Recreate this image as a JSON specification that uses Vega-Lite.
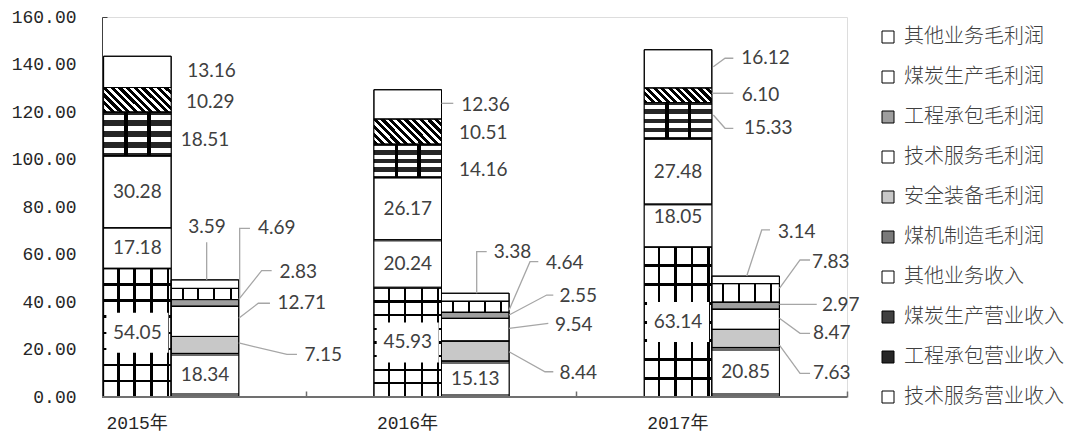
{
  "$schema": "https://vega.github.io/schema/vega-lite/v6.json",
  "width": 745,
  "height": 380,
  "autosize": "none",
  "padding": {"left": 102, "top": 17, "right": 235, "bottom": 39},
  "background": "white",
  "config": {
    "axisY": {"labelFont": "Liberation Mono", "labelFontSize": 18, "labelFontWeight": "normal", "labelColor": "#262626", "labelPadding": 31},
    "axisX": {"labelFont": "Liberation Mono, Noto Sans CJK SC", "labelFontSize": 18, "labelFontWeight": "normal", "labelColor": "#262626", "labelPadding": 23}
  },
  "params": [
    {
      "name": "lbl",
      "value": {
        "2015年煤机制造营业收入": [-33.8, 0],
        "2015年安全装备营业收入": [-33.8, 0],
        "2015年技术服务营业收入": [-33.8, 0],
        "2015年工程承包营业收入": [33.8, 6.1],
        "2015年煤炭生产营业收入": [39.1, 2],
        "2015年其他业务收入": [40.3, -1.2],
        "2015年煤机制造毛利润": [33.8, 0],
        "2015年安全装备毛利润": [152.1, 10],
        "2015年技术服务毛利润": [130.5, -18.1],
        "2015年工程承包毛利润": [127.1, -31.2],
        "2015年煤炭生产毛利润": [105.5, -65.7],
        "2015年其他业务毛利润": [35.8, -57.5],
        "2016年煤机制造营业收入": [-33.8, 0],
        "2016年安全装备营业收入": [-33.8, 0],
        "2016年技术服务营业收入": [-33.8, 0],
        "2016年工程承包营业收入": [41.8, 9.1],
        "2016年煤炭生产营业收入": [41.8, 1.7],
        "2016年其他业务收入": [44, 0.6],
        "2016年煤机制造毛利润": [33.8, 0],
        "2016年安全装备毛利润": [136.8, 21.7],
        "2016年技术服务毛利润": [132.3, -4.7],
        "2016年工程承包毛利润": [136.8, -19.3],
        "2016年煤炭生产毛利润": [123.2, -43.5],
        "2016年其他业务毛利润": [71, -45.6],
        "2017年煤机制造营业收入": [-33.8, 0],
        "2017年安全装备营业收入": [-33.8, -9],
        "2017年技术服务营业收入": [-33.8, 0],
        "2017年工程承包营业收入": [56.5, 7.6],
        "2017年煤炭生产营业收入": [48.7, -0.3],
        "2017年其他业务收入": [53.7, -10.6],
        "2017年煤机制造毛利润": [33.8, 0],
        "2017年安全装备毛利润": [119.9, 34.9],
        "2017年技术服务毛利润": [119.9, 14],
        "2017年工程承包毛利润": [129, -0.7],
        "2017年煤炭生产毛利润": [119, -31.2],
        "2017年其他业务毛利润": [84.9, -48.2]
      }
    },
    {
      "name": "ldr",
      "value": {
        "2015年安全装备毛利润": [[67.6, -2], [115.8, 9.5], [125.8, 9.5]],
        "2015年技术服务毛利润": [[67.6, -3.1], [87.1, -18.1], [98.8, -18.1]],
        "2015年工程承包毛利润": [[67.6, -3.6], [90.5, -32.2], [100.5, -32.2]],
        "2015年煤炭生产毛利润": [[68.5, 3], [68.5, -65.7], [78.8, -65.7]],
        "2015年其他业务毛利润": [[35.5, -4.3], [35.5, -41.9]],
        "2016年安全装备毛利润": [[67.6, 0.7], [103.5, 20.7], [111.8, 20.7]],
        "2016年技术服务毛利润": [[67.6, -1.4], [106.8, -6.4]],
        "2016年工程承包毛利润": [[67.6, -0.3], [105.2, -20.3], [111.8, -20.3]],
        "2016年煤炭生产毛利润": [[67.6, 3.2], [88.5, -45.1], [96.8, -45.1]],
        "2016年其他业务毛利润": [[35.2, -4], [35.2, -45.6], [45.2, -45.6]],
        "2016年其他业务收入": [[0, -1.1], [11.8, -1.1]],
        "2017年安全装备毛利润": [[67.6, 6.6], [88.2, 34.9], [98.2, 34.9]],
        "2017年技术服务毛利润": [[67.6, -1], [88.2, 14], [98.2, 14]],
        "2017年工程承包毛利润": [[67.6, -1.4], [104.9, -1.4]],
        "2017年煤炭生产毛利润": [[67.6, -4.6], [88.2, -32.9], [98.2, -32.9]],
        "2017年其他业务毛利润": [[34.9, -3.8], [49.9, -49.9], [58.2, -49.9]],
        "2017年其他业务收入": [[1.5, -2.2], [13.2, -10.6], [21.5, -10.6]],
        "2017年煤炭生产营业收入": [[0, -2], [21.5, -2]],
        "2017年工程承包营业收入": [[1.5, -5.7], [13.2, 7.6], [21.5, 7.6]]
      }
    }
  ],
  "data": {
    "values": [
      {"year": "2015年", "kind": "营业收入", "series": "煤机制造营业收入", "value": 54.05},
      {"year": "2015年", "kind": "营业收入", "series": "安全装备营业收入", "value": 17.18},
      {"year": "2015年", "kind": "营业收入", "series": "技术服务营业收入", "value": 30.28},
      {"year": "2015年", "kind": "营业收入", "series": "工程承包营业收入", "value": 18.51},
      {"year": "2015年", "kind": "营业收入", "series": "煤炭生产营业收入", "value": 10.29},
      {"year": "2015年", "kind": "营业收入", "series": "其他业务收入", "value": 13.16},
      {"year": "2015年", "kind": "毛利润", "series": "煤机制造毛利润", "value": 18.34},
      {"year": "2015年", "kind": "毛利润", "series": "安全装备毛利润", "value": 7.15},
      {"year": "2015年", "kind": "毛利润", "series": "技术服务毛利润", "value": 12.71},
      {"year": "2015年", "kind": "毛利润", "series": "工程承包毛利润", "value": 2.83},
      {"year": "2015年", "kind": "毛利润", "series": "煤炭生产毛利润", "value": 4.69},
      {"year": "2015年", "kind": "毛利润", "series": "其他业务毛利润", "value": 3.59},
      {"year": "2016年", "kind": "营业收入", "series": "煤机制造营业收入", "value": 45.93},
      {"year": "2016年", "kind": "营业收入", "series": "安全装备营业收入", "value": 20.24},
      {"year": "2016年", "kind": "营业收入", "series": "技术服务营业收入", "value": 26.17},
      {"year": "2016年", "kind": "营业收入", "series": "工程承包营业收入", "value": 14.16},
      {"year": "2016年", "kind": "营业收入", "series": "煤炭生产营业收入", "value": 10.51},
      {"year": "2016年", "kind": "营业收入", "series": "其他业务收入", "value": 12.36},
      {"year": "2016年", "kind": "毛利润", "series": "煤机制造毛利润", "value": 15.13},
      {"year": "2016年", "kind": "毛利润", "series": "安全装备毛利润", "value": 8.44},
      {"year": "2016年", "kind": "毛利润", "series": "技术服务毛利润", "value": 9.54},
      {"year": "2016年", "kind": "毛利润", "series": "工程承包毛利润", "value": 2.55},
      {"year": "2016年", "kind": "毛利润", "series": "煤炭生产毛利润", "value": 4.64},
      {"year": "2016年", "kind": "毛利润", "series": "其他业务毛利润", "value": 3.38},
      {"year": "2017年", "kind": "营业收入", "series": "煤机制造营业收入", "value": 63.14},
      {"year": "2017年", "kind": "营业收入", "series": "安全装备营业收入", "value": 18.05},
      {"year": "2017年", "kind": "营业收入", "series": "技术服务营业收入", "value": 27.48},
      {"year": "2017年", "kind": "营业收入", "series": "工程承包营业收入", "value": 15.33},
      {"year": "2017年", "kind": "营业收入", "series": "煤炭生产营业收入", "value": 6.10},
      {"year": "2017年", "kind": "营业收入", "series": "其他业务收入", "value": 16.12},
      {"year": "2017年", "kind": "毛利润", "series": "煤机制造毛利润", "value": 20.85},
      {"year": "2017年", "kind": "毛利润", "series": "安全装备毛利润", "value": 7.63},
      {"year": "2017年", "kind": "毛利润", "series": "技术服务毛利润", "value": 8.47},
      {"year": "2017年", "kind": "毛利润", "series": "工程承包毛利润", "value": 2.97},
      {"year": "2017年", "kind": "毛利润", "series": "煤炭生产毛利润", "value": 7.83},
      {"year": "2017年", "kind": "毛利润", "series": "其他业务毛利润", "value": 3.14}
    ]
  },
  "transform": [
    {"calculate": "indexof(['煤机制造营业收入','安全装备营业收入','技术服务营业收入','工程承包营业收入','煤炭生产营业收入','其他业务收入','煤机制造毛利润','安全装备毛利润','技术服务毛利润','工程承包毛利润','煤炭生产毛利润','其他业务毛利润'], datum.series)", "as": "rank"},
    {"stack": "value", "groupby": ["year", "kind"], "sort": [{"field": "rank", "order": "ascending"}], "as": ["v0", "v1"]},
    {"calculate": "(datum.v0 + datum.v1) / 2", "as": "mid"},
    {"calculate": "datum.year + datum.series", "as": "key"}
  ],
  "layer": [
    {
      "mark": {"type": "bar", "stroke": "#000", "strokeWidth": 1},
      "encoding": {
        "x": {
          "field": "year", "type": "nominal", "title": null,
          "scale": {"type": "band", "domain": ["2015年", "2016年", "2017年"], "range": [-66, 745], "paddingInner": 0, "paddingOuter": 0},
          "axis": {
            "domain": false, "grid": false, "ticks": true, "tickSize": -6, "tickColor": "#6e6e6e", "tickWidth": 1.5,
            "bandPosition": 1, "labelOffset": -34, "labelAngle": 0,
            "labelFont": "Liberation Mono, Noto Sans CJK SC", "labelFontSize": 18, "labelFontWeight": "normal", "labelColor": "#262626", "labelPadding": 23
          }
        },
        "xOffset": {"field": "kind", "type": "nominal", "scale": {"domain": ["营业收入", "毛利润"], "paddingInner": 0, "paddingOuter": 1}},
        "y": {
          "field": "v0", "type": "quantitative", "title": null,
          "scale": {"domain": [0, 160], "nice": false},
          "axis": {
            "values": [0, 20, 40, 60, 80, 100, 120, 140, 160], "format": ".2f", "grid": false,
            "domainColor": "#404040", "domainWidth": 1, "ticks": true, "tickSize": -5, "tickColor": "#404040",
            "labelFont": "Liberation Mono", "labelFontSize": 18, "labelFontWeight": "normal", "labelColor": "#262626", "labelPadding": 31
          }
        },
        "y2": {"field": "v1"},
        "color": {
          "field": "series", "type": "nominal",
          "scale": {
            "domain": ["煤机制造营业收入", "安全装备营业收入", "技术服务营业收入", "工程承包营业收入", "煤炭生产营业收入", "其他业务收入", "煤机制造毛利润", "安全装备毛利润", "技术服务毛利润", "工程承包毛利润", "煤炭生产毛利润", "其他业务毛利润"],
            "range": ["#ffffff", "#ffffff", "#ffffff", "#262626", "#404040", "#ffffff", "#7a7a7a", "#c8c8c8", "#ffffff", "#9e9e9e", "#ffffff", "#ffffff"]
          },
          "legend": {
            "values": ["其他业务毛利润", "煤炭生产毛利润", "工程承包毛利润", "技术服务毛利润", "安全装备毛利润", "煤机制造毛利润", "其他业务收入", "煤炭生产营业收入", "工程承包营业收入", "技术服务营业收入"],
            "title": null, "orient": "none", "legendX": 776, "legendY": 10, "direction": "vertical",
            "symbolType": "square", "symbolSize": 144, "symbolStrokeColor": "#000", "symbolStrokeWidth": 1,
            "labelFont": "Noto Sans CJK SC", "labelFontSize": 20, "labelFontWeight": 300, "labelColor": "#404040",
            "labelOffset": 6, "rowPadding": 20, "labelLimit": 300
          }
        }
      }
    },
    {
      "transform": [{"filter": "datum.series === '煤机制造营业收入'"}],
      "mark": {
        "type": "bar", "strokeWidth": 0,
        "fill": {
          "gradient": "linear", "x1": 0, "y1": 0, "x2": 0, "y2": 1,
          "stops": [
            {"offset": 0, "color": "rgba(0,0,0,0)"},
            {"offset": 0.115, "color": "rgba(0,0,0,0)"}, {"offset": 0.115, "color": "#000"}, {"offset": 0.135, "color": "#000"}, {"offset": 0.135, "color": "rgba(0,0,0,0)"},
            {"offset": 0.24, "color": "rgba(0,0,0,0)"}, {"offset": 0.24, "color": "#000"}, {"offset": 0.26, "color": "#000"}, {"offset": 0.26, "color": "rgba(0,0,0,0)"},
            {"offset": 0.365, "color": "rgba(0,0,0,0)"}, {"offset": 0.365, "color": "#000"}, {"offset": 0.385, "color": "#000"}, {"offset": 0.385, "color": "rgba(0,0,0,0)"},
            {"offset": 0.49, "color": "rgba(0,0,0,0)"}, {"offset": 0.49, "color": "#000"}, {"offset": 0.51, "color": "#000"}, {"offset": 0.51, "color": "rgba(0,0,0,0)"},
            {"offset": 0.615, "color": "rgba(0,0,0,0)"}, {"offset": 0.615, "color": "#000"}, {"offset": 0.635, "color": "#000"}, {"offset": 0.635, "color": "rgba(0,0,0,0)"},
            {"offset": 0.74, "color": "rgba(0,0,0,0)"}, {"offset": 0.74, "color": "#000"}, {"offset": 0.76, "color": "#000"}, {"offset": 0.76, "color": "rgba(0,0,0,0)"},
            {"offset": 0.865, "color": "rgba(0,0,0,0)"}, {"offset": 0.865, "color": "#000"}, {"offset": 0.885, "color": "#000"}, {"offset": 0.885, "color": "rgba(0,0,0,0)"},
            {"offset": 1, "color": "rgba(0,0,0,0)"}
          ]
        }
      },
      "encoding": {
        "x": {"field": "year", "type": "nominal", "title": null},
        "xOffset": {"field": "kind", "type": "nominal"},
        "y": {"field": "v0", "type": "quantitative", "title": null},
        "y2": {"field": "v1"}
      }
    },
    {
      "transform": [{"filter": "datum.series === '煤机制造营业收入'"}],
      "mark": {
        "type": "bar", "strokeWidth": 0,
        "fill": {
          "gradient": "linear", "x1": 0, "y1": 0, "x2": 1, "y2": 0,
          "stops": [
            {"offset": 0, "color": "rgba(0,0,0,0)"},
            {"offset": 0.202, "color": "rgba(0,0,0,0)"}, {"offset": 0.202, "color": "#000"}, {"offset": 0.238, "color": "#000"}, {"offset": 0.238, "color": "rgba(0,0,0,0)"},
            {"offset": 0.442, "color": "rgba(0,0,0,0)"}, {"offset": 0.442, "color": "#000"}, {"offset": 0.478, "color": "#000"}, {"offset": 0.478, "color": "rgba(0,0,0,0)"},
            {"offset": 0.692, "color": "rgba(0,0,0,0)"}, {"offset": 0.692, "color": "#000"}, {"offset": 0.728, "color": "#000"}, {"offset": 0.728, "color": "rgba(0,0,0,0)"},
            {"offset": 0.932, "color": "rgba(0,0,0,0)"}, {"offset": 0.932, "color": "#000"}, {"offset": 0.968, "color": "#000"}, {"offset": 0.968, "color": "rgba(0,0,0,0)"},
            {"offset": 1, "color": "rgba(0,0,0,0)"}
          ]
        }
      },
      "encoding": {
        "x": {"field": "year", "type": "nominal", "title": null},
        "xOffset": {"field": "kind", "type": "nominal"},
        "y": {"field": "v0", "type": "quantitative", "title": null},
        "y2": {"field": "v1"}
      }
    },
    {
      "transform": [{"filter": "datum.series === '工程承包营业收入'"}],
      "mark": {
        "type": "bar", "strokeWidth": 0,
        "fill": {
          "gradient": "linear", "x1": 0, "y1": 0, "x2": 0, "y2": 1,
          "stops": [
            {"offset": 0, "color": "rgba(0,0,0,0)"},
            {"offset": 0.07, "color": "rgba(0,0,0,0)"}, {"offset": 0.07, "color": "#fff"}, {"offset": 0.19, "color": "#fff"}, {"offset": 0.19, "color": "rgba(0,0,0,0)"},
            {"offset": 0.32, "color": "rgba(0,0,0,0)"}, {"offset": 0.32, "color": "#fff"}, {"offset": 0.44, "color": "#fff"}, {"offset": 0.44, "color": "rgba(0,0,0,0)"},
            {"offset": 0.57, "color": "rgba(0,0,0,0)"}, {"offset": 0.57, "color": "#fff"}, {"offset": 0.69, "color": "#fff"}, {"offset": 0.69, "color": "rgba(0,0,0,0)"},
            {"offset": 0.82, "color": "rgba(0,0,0,0)"}, {"offset": 0.82, "color": "#fff"}, {"offset": 0.94, "color": "#fff"}, {"offset": 0.94, "color": "rgba(0,0,0,0)"},
            {"offset": 1, "color": "rgba(0,0,0,0)"}
          ]
        }
      },
      "encoding": {
        "x": {"field": "year", "type": "nominal", "title": null},
        "xOffset": {"field": "kind", "type": "nominal"},
        "y": {"field": "v0", "type": "quantitative", "title": null},
        "y2": {"field": "v1"}
      }
    },
    {
      "transform": [{"filter": "datum.series === '工程承包营业收入'"}],
      "mark": {
        "type": "bar", "strokeWidth": 0,
        "fill": {
          "gradient": "linear", "x1": 0, "y1": 0, "x2": 1, "y2": 0,
          "stops": [
            {"offset": 0, "color": "rgba(0,0,0,0)"},
            {"offset": 0.305, "color": "rgba(0,0,0,0)"}, {"offset": 0.305, "color": "#000"}, {"offset": 0.36, "color": "#000"}, {"offset": 0.36, "color": "rgba(0,0,0,0)"},
            {"offset": 0.64, "color": "rgba(0,0,0,0)"}, {"offset": 0.64, "color": "#000"}, {"offset": 0.695, "color": "#000"}, {"offset": 0.695, "color": "rgba(0,0,0,0)"},
            {"offset": 1, "color": "rgba(0,0,0,0)"}
          ]
        }
      },
      "encoding": {
        "x": {"field": "year", "type": "nominal", "title": null},
        "xOffset": {"field": "kind", "type": "nominal"},
        "y": {"field": "v0", "type": "quantitative", "title": null},
        "y2": {"field": "v1"}
      }
    },
    {
      "transform": [{"filter": "datum.series === '煤炭生产营业收入' && datum.year !== '2017年'"}],
      "mark": {
        "type": "bar", "strokeWidth": 0,
        "fill": {
          "gradient": "linear", "x1": 0, "y1": 1, "x2": 1.2045, "y2": 0.5603,
          "stops": [
            {"offset": 0, "color": "#000"}, {"offset": 0.0458, "color": "#000"}, {"offset": 0.0458, "color": "#fff"}, {"offset": 0.0833, "color": "#fff"},
            {"offset": 0.0833, "color": "#000"}, {"offset": 0.1292, "color": "#000"}, {"offset": 0.1292, "color": "#fff"}, {"offset": 0.1667, "color": "#fff"},
            {"offset": 0.1667, "color": "#000"}, {"offset": 0.2125, "color": "#000"}, {"offset": 0.2125, "color": "#fff"}, {"offset": 0.25, "color": "#fff"},
            {"offset": 0.25, "color": "#000"}, {"offset": 0.2958, "color": "#000"}, {"offset": 0.2958, "color": "#fff"}, {"offset": 0.3333, "color": "#fff"},
            {"offset": 0.3333, "color": "#000"}, {"offset": 0.3792, "color": "#000"}, {"offset": 0.3792, "color": "#fff"}, {"offset": 0.4167, "color": "#fff"},
            {"offset": 0.4167, "color": "#000"}, {"offset": 0.4625, "color": "#000"}, {"offset": 0.4625, "color": "#fff"}, {"offset": 0.5, "color": "#fff"},
            {"offset": 0.5, "color": "#000"}, {"offset": 0.5458, "color": "#000"}, {"offset": 0.5458, "color": "#fff"}, {"offset": 0.5833, "color": "#fff"},
            {"offset": 0.5833, "color": "#000"}, {"offset": 0.6292, "color": "#000"}, {"offset": 0.6292, "color": "#fff"}, {"offset": 0.6667, "color": "#fff"},
            {"offset": 0.6667, "color": "#000"}, {"offset": 0.7125, "color": "#000"}, {"offset": 0.7125, "color": "#fff"}, {"offset": 0.75, "color": "#fff"},
            {"offset": 0.75, "color": "#000"}, {"offset": 0.7958, "color": "#000"}, {"offset": 0.7958, "color": "#fff"}, {"offset": 0.8333, "color": "#fff"},
            {"offset": 0.8333, "color": "#000"}, {"offset": 0.8792, "color": "#000"}, {"offset": 0.8792, "color": "#fff"}, {"offset": 0.9167, "color": "#fff"},
            {"offset": 0.9167, "color": "#000"}, {"offset": 0.9625, "color": "#000"}, {"offset": 0.9625, "color": "#fff"}, {"offset": 1, "color": "#fff"}
          ]
        }
      },
      "encoding": {
        "x": {"field": "year", "type": "nominal", "title": null},
        "xOffset": {"field": "kind", "type": "nominal"},
        "y": {"field": "v0", "type": "quantitative", "title": null},
        "y2": {"field": "v1"}
      }
    },
    {
      "transform": [{"filter": "datum.series === '煤炭生产营业收入' && datum.year === '2017年'"}],
      "mark": {
        "type": "bar", "strokeWidth": 0,
        "fill": {
          "gradient": "linear", "x1": 0, "y1": 1, "x2": 1.1611, "y2": 0.751,
          "stops": [
            {"offset": 0, "color": "#000"}, {"offset": 0.05, "color": "#000"}, {"offset": 0.05, "color": "#fff"}, {"offset": 0.0909, "color": "#fff"},
            {"offset": 0.0909, "color": "#000"}, {"offset": 0.1409, "color": "#000"}, {"offset": 0.1409, "color": "#fff"}, {"offset": 0.1818, "color": "#fff"},
            {"offset": 0.1818, "color": "#000"}, {"offset": 0.2318, "color": "#000"}, {"offset": 0.2318, "color": "#fff"}, {"offset": 0.2727, "color": "#fff"},
            {"offset": 0.2727, "color": "#000"}, {"offset": 0.3227, "color": "#000"}, {"offset": 0.3227, "color": "#fff"}, {"offset": 0.3636, "color": "#fff"},
            {"offset": 0.3636, "color": "#000"}, {"offset": 0.4136, "color": "#000"}, {"offset": 0.4136, "color": "#fff"}, {"offset": 0.4545, "color": "#fff"},
            {"offset": 0.4545, "color": "#000"}, {"offset": 0.5045, "color": "#000"}, {"offset": 0.5045, "color": "#fff"}, {"offset": 0.5455, "color": "#fff"},
            {"offset": 0.5455, "color": "#000"}, {"offset": 0.5955, "color": "#000"}, {"offset": 0.5955, "color": "#fff"}, {"offset": 0.6364, "color": "#fff"},
            {"offset": 0.6364, "color": "#000"}, {"offset": 0.6864, "color": "#000"}, {"offset": 0.6864, "color": "#fff"}, {"offset": 0.7273, "color": "#fff"},
            {"offset": 0.7273, "color": "#000"}, {"offset": 0.7773, "color": "#000"}, {"offset": 0.7773, "color": "#fff"}, {"offset": 0.8182, "color": "#fff"},
            {"offset": 0.8182, "color": "#000"}, {"offset": 0.8682, "color": "#000"}, {"offset": 0.8682, "color": "#fff"}, {"offset": 0.9091, "color": "#fff"},
            {"offset": 0.9091, "color": "#000"}, {"offset": 0.9591, "color": "#000"}, {"offset": 0.9591, "color": "#fff"}, {"offset": 1, "color": "#fff"}
          ]
        }
      },
      "encoding": {
        "x": {"field": "year", "type": "nominal", "title": null},
        "xOffset": {"field": "kind", "type": "nominal"},
        "y": {"field": "v0", "type": "quantitative", "title": null},
        "y2": {"field": "v1"}
      }
    },
    {
      "transform": [{"filter": "datum.series === '煤炭生产毛利润'"}],
      "mark": {
        "type": "bar", "strokeWidth": 0,
        "fill": {
          "gradient": "linear", "x1": 0, "y1": 0, "x2": 1, "y2": 0,
          "stops": [
            {"offset": 0, "color": "rgba(0,0,0,0)"},
            {"offset": 0.155, "color": "rgba(0,0,0,0)"}, {"offset": 0.155, "color": "#000"}, {"offset": 0.185, "color": "#000"}, {"offset": 0.185, "color": "rgba(0,0,0,0)"},
            {"offset": 0.385, "color": "rgba(0,0,0,0)"}, {"offset": 0.385, "color": "#000"}, {"offset": 0.415, "color": "#000"}, {"offset": 0.415, "color": "rgba(0,0,0,0)"},
            {"offset": 0.625, "color": "rgba(0,0,0,0)"}, {"offset": 0.625, "color": "#000"}, {"offset": 0.655, "color": "#000"}, {"offset": 0.655, "color": "rgba(0,0,0,0)"},
            {"offset": 0.865, "color": "rgba(0,0,0,0)"}, {"offset": 0.865, "color": "#000"}, {"offset": 0.895, "color": "#000"}, {"offset": 0.895, "color": "rgba(0,0,0,0)"},
            {"offset": 1, "color": "rgba(0,0,0,0)"}
          ]
        }
      },
      "encoding": {
        "x": {"field": "year", "type": "nominal", "title": null},
        "xOffset": {"field": "kind", "type": "nominal"},
        "y": {"field": "v0", "type": "quantitative", "title": null},
        "y2": {"field": "v1"}
      }
    },
    {
      "transform": [{"filter": "datum.series === '煤机制造毛利润'"}],
      "mark": {
        "type": "bar", "strokeWidth": 0,
        "fill": {
          "gradient": "linear", "x1": 0, "y1": 0, "x2": 0, "y2": 1,
          "stops": [
            {"offset": 0, "color": "#6a6a6a"}, {"offset": 0.07, "color": "#6a6a6a"}, {"offset": 0.07, "color": "#fff"},
            {"offset": 0.91, "color": "#fff"}, {"offset": 0.91, "color": "#6a6a6a"}, {"offset": 1, "color": "#6a6a6a"}
          ]
        }
      },
      "encoding": {
        "x": {"field": "year", "type": "nominal", "title": null},
        "xOffset": {"field": "kind", "type": "nominal"},
        "y": {"field": "v0", "type": "quantitative", "title": null},
        "y2": {"field": "v1"}
      }
    },
    {
      "transform": [{"filter": "datum.series === '安全装备营业收入'"}],
      "mark": {
        "type": "bar", "strokeWidth": 0,
        "fill": {
          "gradient": "linear", "x1": 0, "y1": 0, "x2": 0, "y2": 1,
          "stops": [
            {"offset": 0, "color": "#9a9a9a"}, {"offset": 0.035, "color": "#9a9a9a"}, {"offset": 0.035, "color": "#fff"},
            {"offset": 0.965, "color": "#fff"}, {"offset": 0.965, "color": "#9a9a9a"}, {"offset": 1, "color": "#9a9a9a"}
          ]
        }
      },
      "encoding": {
        "x": {"field": "year", "type": "nominal", "title": null},
        "xOffset": {"field": "kind", "type": "nominal"},
        "y": {"field": "v0", "type": "quantitative", "title": null},
        "y2": {"field": "v1"}
      }
    },
    {
      "mark": {"type": "bar", "fillOpacity": 0, "stroke": "#000", "strokeWidth": 1},
      "encoding": {
        "x": {"field": "year", "type": "nominal", "title": null},
        "xOffset": {"field": "kind", "type": "nominal"},
        "y": {"field": "v0", "type": "quantitative", "title": null},
        "y2": {"field": "v1"}
      }
    },
    {
      "transform": [
        {"filter": "datum.series === '煤机制造营业收入'"},
        {"calculate": "lbl[datum.key][0]", "as": "dx"},
        {"calculate": "lbl[datum.key][1]", "as": "dy"}
      ],
      "mark": {
        "type": "point", "shape": "M-1,-0.645H1V0.645H-1Z", "size": 3844, "filled": true, "color": "#ffffff",
        "opacity": 1, "strokeWidth": 0, "xOffset": {"expr": "datum.dx"}, "yOffset": {"expr": "datum.dy"}
      },
      "encoding": {
        "x": {"field": "year", "type": "nominal", "title": null},
        "y": {"field": "mid", "type": "quantitative", "title": null}
      }
    },
    {
      "transform": [
        {"filter": "isValid(ldr[datum.key])"},
        {"calculate": "ldr[datum.key]", "as": "pts"},
        {"flatten": ["pts"]},
        {"window": [{"op": "row_number", "as": "idx"}], "groupby": ["key"]},
        {"calculate": "datum.pts[0]", "as": "px"},
        {"calculate": "datum.pts[1]", "as": "py"}
      ],
      "mark": {"type": "line", "color": "#a6a6a6", "strokeWidth": 1.3, "xOffset": {"expr": "datum.px"}, "yOffset": {"expr": "datum.py"}},
      "encoding": {
        "x": {"field": "year", "type": "nominal", "title": null},
        "y": {"field": "mid", "type": "quantitative", "title": null},
        "detail": {"field": "key", "type": "nominal"},
        "order": {"field": "idx", "type": "quantitative"}
      }
    },
    {
      "transform": [
        {"calculate": "lbl[datum.key][0]", "as": "dx"},
        {"calculate": "lbl[datum.key][1]", "as": "dy"}
      ],
      "mark": {
        "type": "text", "font": "Lato", "fontSize": 19, "color": "#404040", "align": "center", "baseline": "middle",
        "dx": {"expr": "datum.dx"}, "dy": {"expr": "datum.dy"}
      },
      "encoding": {
        "x": {"field": "year", "type": "nominal", "title": null},
        "y": {"field": "mid", "type": "quantitative", "title": null},
        "text": {"field": "value", "type": "quantitative", "format": ".2f"}
      }
    },
    {
      "mark": {"type": "rule", "color": "#707070", "strokeWidth": 1.5},
      "encoding": {"y": {"datum": 0, "type": "quantitative"}}
    }
  ]
}
